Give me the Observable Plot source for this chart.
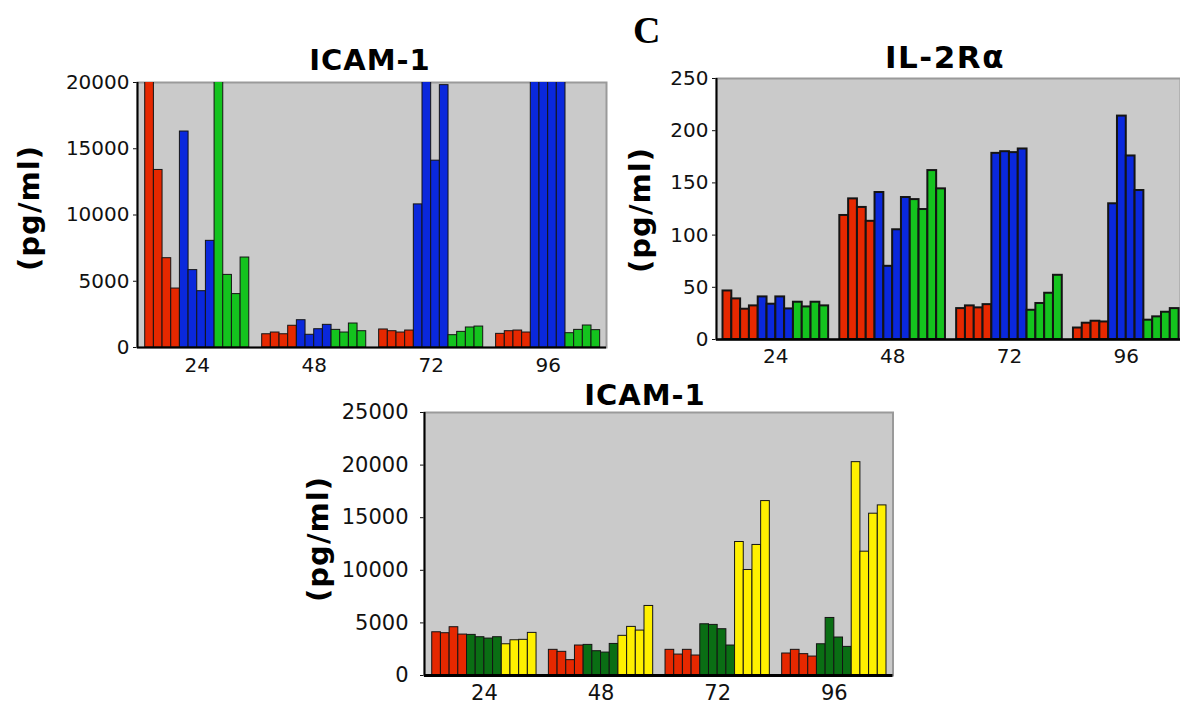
<!DOCTYPE html>
<html>
<head>
<meta charset="utf-8">
<script src="https://cdn.jsdelivr.net/npm/d3@7"></script>
<script src="https://cdn.jsdelivr.net/npm/@observablehq/plot@0.6"></script>
<style>
  html, body { margin: 0; padding: 0; background: #fff; }
  #page { position: relative; width: 1180px; height: 706px; overflow: hidden; background: #fff; }
  .panel { position: absolute; }
  .lbl { position: absolute; white-space: nowrap; line-height: 1; color: #000; }
</style>
</head>
<body>
<div id="page"></div>
<script>
// ---------------- DATA ----------------
const timePoints = ["24", "48", "72", "96"];

// Top-left panel: ICAM-1 (pg/ml); 4 replicate bars per time point, in time order
const icamTopRed   = [25000, 13400, 6740, 4450,   1000, 1130, 1000, 1640,   1360, 1230, 1130, 1280,   1030, 1230, 1280, 1130];
const icamTopBlue  = [16300, 5840, 4250, 8050,    2060, 960, 1380, 1710,    10800, 25000, 14100, 19800, 25000, 25000, 25000, 25000];
const icamTopGreen = [25000, 5480, 4030, 6790,    1330, 1130, 1810, 1230,   930, 1180, 1510, 1580,     1080, 1330, 1660, 1310];
const icamTopTicks = [0, 5000, 10000, 15000, 20000];

// Top-right panel: IL-2Rα (pg/ml)
const il2Red   = [46.5, 38.9, 29.0, 32.2,   118.8, 134.7, 126.5, 113.2,   29.6, 32.2, 30.3, 33.4,   11.0, 15.6, 17.5, 16.8];
const il2Blue  = [40.8, 33.8, 40.8, 29.3,   140.8, 70.1, 105.1, 136.0,    178.3, 179.9, 179.0, 182.5, 130.0, 214.0, 175.8, 142.7];
const il2Green = [35.7, 31.2, 35.7, 32.2,   134.0, 124.5, 161.8, 144.3,   28.0, 34.5, 44.3, 61.5,   18.5, 21.7, 26.1, 29.6];
const il2Ticks = [0, 50, 100, 150, 200, 250];

// Bottom panel: ICAM-1 (pg/ml)
const icamBotRed       = [4110, 4020, 4590, 3890,   2440, 2250, 1460, 2850,   2440, 1990, 2440, 1900,    2090, 2440, 2030, 1800];
const icamBotDarkGreen = [3860, 3640, 3510, 3640,   2910, 2310, 2180, 3000,   4870, 4810, 4400, 2850,    2970, 5470, 3610, 2720];
const icamBotYellow    = [2970, 3350, 3390, 4050,   3770, 4620, 4270, 6610,   12690, 10030, 12410, 16580, 20280, 11770, 15380, 16170];
const icamBotTicks = [0, 5000, 10000, 15000, 20000, 25000];

const titles = ["ICAM-1", "IL-2R\u03b1", "ICAM-1"];
const yLabel = "(pg/ml)";
const panelLetter = "C";

// ---------------- DRAWING ----------------
const RED = "#e62800", BLUE = "#0a28dc", GREEN = "#14c31e", DKGREEN = "#0a6e14", YELLOW = "#fff000";
const page = document.getElementById("page");

function barPanel(cfg) {
  const unit = 12 + cfg.gap;                 // one time-point group (12 bars) + gap, in bar units
  const rows = [];
  cfg.series.forEach((s, si) => {
    s.values.forEach((v, k) => {
      const t = Math.floor(k / 4), r = k % 4;
      rows.push({pos: t * unit + si * 4 + r, value: v, color: s.color});
    });
  });
  const centers = timePoints.map((_, t) => t * unit + 6);
  const labelAt = new Map(centers.map((c, i) => [c, timePoints[i]]));
  const x0 = -cfg.padL, x1 = 3 * unit + 12 + cfg.padR;

  const chart = Plot.plot({
    width: cfg.width,
    height: cfg.height,
    marginLeft: cfg.ml, marginRight: cfg.mr, marginTop: cfg.mt, marginBottom: cfg.mb,
    style: {fontFamily: "'DejaVu Sans', Verdana, sans-serif", fontSize: cfg.fs + "px", color: "#111", background: "transparent", overflow: "visible"},
    color: {type: "identity"},
    x: {domain: [x0, x1], ticks: centers, tickFormat: d => labelAt.get(d), tickSize: 0, tickPadding: cfg.xPad, label: null},
    y: {domain: cfg.yDomain, ticks: cfg.ticks, tickFormat: d => String(d), tickSize: 4, tickPadding: cfg.yPad, label: null},
    marks: [
      Plot.frame({fill: "#cacaca", stroke: "#9a9a9a", strokeWidth: 2}),
      Plot.rect(rows, {x1: "pos", x2: d => d.pos + 1, y1: 0, y2: "value", fill: "color", stroke: "#141414", strokeWidth: cfg.sw, clip: true}),
      Plot.ruleY([cfg.yDomain[0]], {stroke: "#000", strokeWidth: cfg.baseW}),
      Plot.ruleX([x0], {stroke: "#000", strokeWidth: 2})
    ]
  });
  chart.classList.add("panel");
  chart.style.left = cfg.left + "px";
  chart.style.top = cfg.top + "px";
  page.appendChild(chart);
}

function addText(txt, o) {
  const d = document.createElement("div");
  d.className = "lbl";
  d.textContent = txt;
  d.style.fontFamily = o.family || "'DejaVu Sans', Verdana, sans-serif";
  d.style.fontWeight = "bold";
  d.style.fontSize = o.size + "px";
  d.style.letterSpacing = (o.ls || 0) + "px";
  if (o.rotate) {
    d.style.left = o.x + "px";
    d.style.top = o.y + "px";
    d.style.transform = "translate(-50%,-50%) rotate(-90deg)";
  } else {
    const asc = o.asc || 0.846;
    d.style.left = o.x + "px";
    d.style.top = (o.y - asc * o.size) + "px";
    if (o.center) d.style.transform = "translateX(-50%)";
  }
  page.appendChild(d);
}

// Top-left ICAM-1
barPanel({
  series: [{values: icamTopRed, color: RED}, {values: icamTopBlue, color: BLUE}, {values: icamTopGreen, color: GREEN}],
  yDomain: [0, 20000], ticks: icamTopTicks,
  left: 0, top: 0, width: 620, height: 380, ml: 137, mr: 14, mt: 82, mb: 33,
  gap: 1.49, padL: 0.89, padR: 0.73, sw: 1, baseW: 2, xPad: 10, yPad: 4, fs: 20
});

// Top-right IL-2Rα
barPanel({
  series: [{values: il2Red, color: RED}, {values: il2Blue, color: BLUE}, {values: il2Green, color: GREEN}],
  yDomain: [0, 250], ticks: il2Ticks,
  left: 620, top: 0, width: 560, height: 380, ml: 96, mr: 0, mt: 78, mb: 41,
  gap: 1.27, padL: 0.74, padR: 0.16, sw: 2, baseW: 2.5, xPad: 9, yPad: 4, fs: 20
});

// Bottom ICAM-1
barPanel({
  series: [{values: icamBotRed, color: RED}, {values: icamBotDarkGreen, color: DKGREEN}, {values: icamBotYellow, color: YELLOW}],
  yDomain: [0, 25000], ticks: icamBotTicks,
  left: 300, top: 370, width: 620, height: 336, ml: 124, mr: 27.5, mt: 42, mb: 31,
  gap: 1.42, padL: 0.89, padR: 0.75, sw: 1, baseW: 3, xPad: 10, yPad: 12, fs: 21
});

// Titles, axis labels, panel letter
addText(titles[0], {x: 370, y: 71, size: 29, ls: 1, center: true});
addText(titles[1], {x: 945, y: 68.5, size: 31, ls: 1.5, center: true});
addText(titles[2], {x: 645, y: 406, size: 29, ls: 1, center: true});
addText(yLabel, {x: 29, y: 208, size: 29, ls: 1, rotate: true});
addText(yLabel, {x: 640, y: 210, size: 29, ls: 1, rotate: true});
addText(yLabel, {x: 318, y: 539, size: 29, ls: 1, rotate: true});
addText(panelLetter, {x: 633, y: 43, size: 38, family: "'Liberation Serif', 'Times New Roman', serif", asc: 0.8375});
</script>
</body>
</html>
